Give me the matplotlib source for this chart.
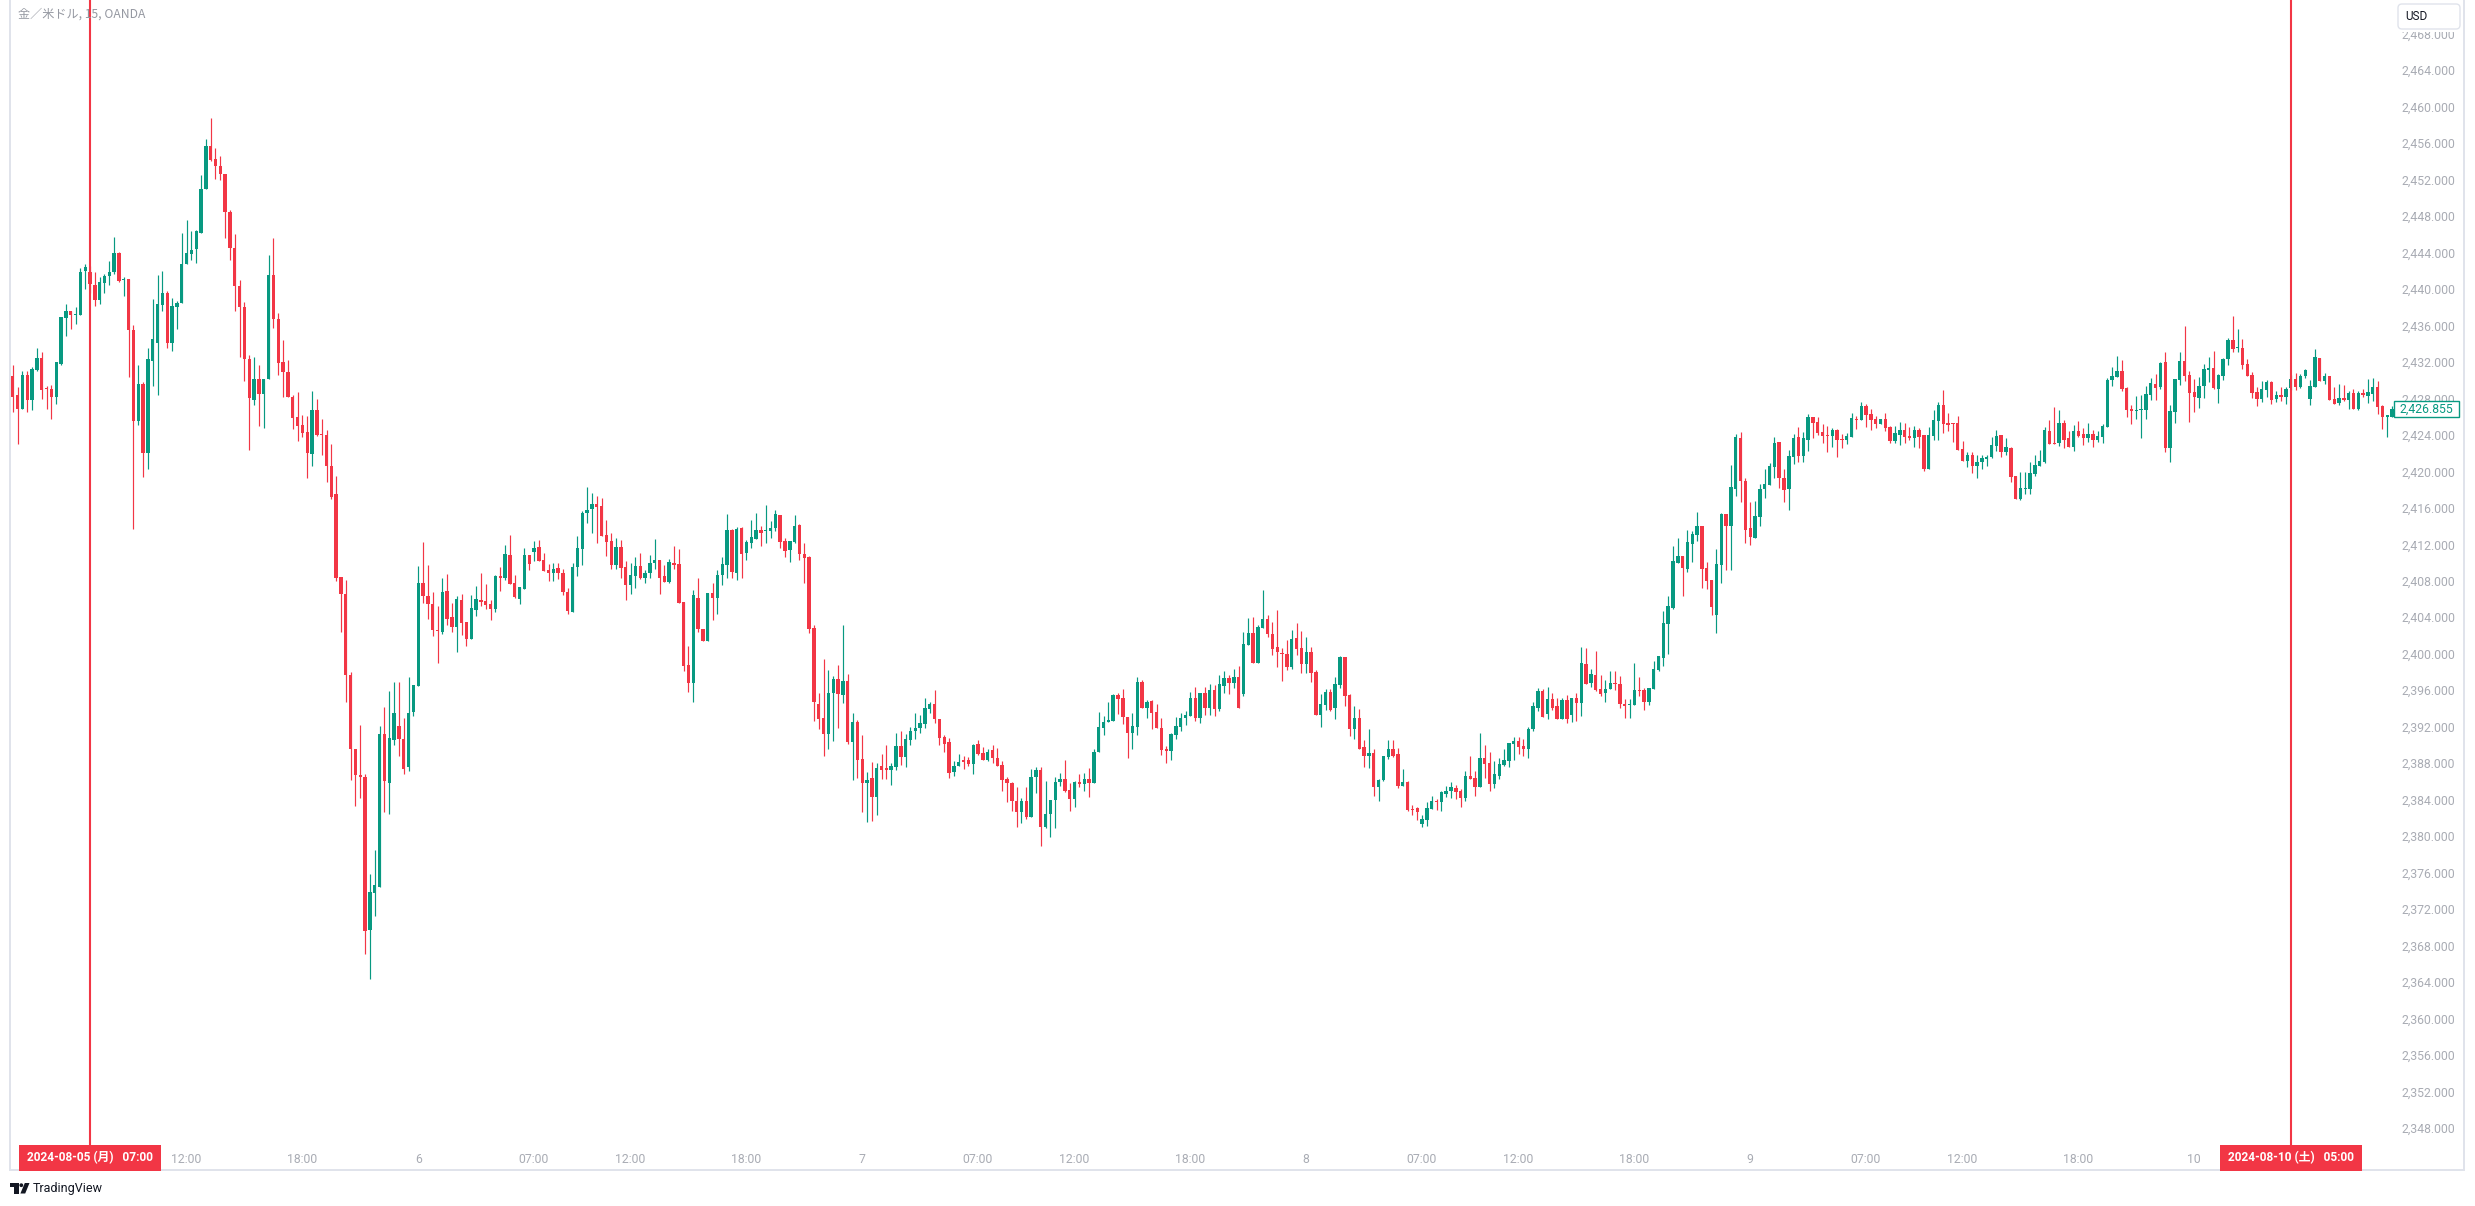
import matplotlib
matplotlib.use("Agg")
import matplotlib.pyplot as plt
from matplotlib.patches import Rectangle, FancyBboxPatch, Polygon, Circle
from matplotlib.lines import Line2D

W, H = 2475, 1206
DPI = 100

title = "金／米ドル, 15, OANDA"

opens = [
 2430.4, 2428.4, 2426.8, 2430.6, 2427.8, 2431.1, 2432.4, 2429.1, 2429.0, 2428.1,
 2431.8, 2436.8, 2437.6, 2437.1, 2437.1, 2442.0, 2441.8, 2440.4, 2438.8, 2440.6,
 2441.4, 2441.8, 2443.9, 2441.0, 2441.1, 2435.5, 2425.5, 2429.6, 2422.0, 2432.1,
 2434.1, 2438.2, 2439.5, 2434.1, 2438.0, 2438.4, 2442.7, 2443.8, 2444.4, 2446.1,
 2450.9, 2455.7, 2454.2, 2453.5, 2452.6, 2448.4, 2444.5, 2440.3, 2438.0, 2432.3,
 2427.8, 2430.1, 2428.5, 2430.1, 2441.5, 2436.7, 2432.0, 2430.9, 2428.1, 2426.0,
 2425.1, 2424.3, 2421.9, 2426.7, 2424.1, 2424.0, 2420.6, 2417.5, 2408.4, 2406.6,
 2397.7, 2389.6, 2386.7, 2386.5, 2369.7, 2373.8, 2374.4, 2391.2, 2385.8, 2390.5,
 2392.1, 2390.7, 2387.6, 2393.6, 2396.5, 2407.8, 2406.3, 2405.5, 2402.6, 2402.4,
 2406.9, 2404.0, 2402.9, 2405.9, 2403.5, 2401.6, 2404.8, 2405.9, 2405.8, 2405.4,
 2404.9, 2408.5, 2408.3, 2410.8, 2407.8, 2406.0, 2407.1, 2410.8, 2411.2, 2411.7,
 2410.3, 2409.2, 2408.9, 2409.4, 2408.9, 2406.8, 2404.6, 2409.5, 2411.5, 2415.4,
 2415.9, 2416.4, 2416.2, 2413.0, 2412.4, 2409.7, 2411.7, 2409.5, 2407.5, 2408.5,
 2409.6, 2408.3, 2408.9, 2409.9, 2410.3, 2408.5, 2407.9, 2410.0, 2409.8, 2405.7,
 2398.8, 2396.8, 2406.1, 2402.7, 2401.4, 2406.7, 2406.1, 2408.6, 2409.7, 2413.6,
 2408.9, 2413.8, 2411.0, 2412.1, 2412.6, 2413.6, 2413.4, 2413.4, 2413.8, 2415.2,
 2412.4, 2411.4, 2412.3, 2414.1, 2410.9, 2410.6, 2402.8, 2394.5, 2392.9, 2391.2,
 2395.7, 2397.2, 2395.5, 2397.0, 2390.3, 2392.5, 2388.5, 2385.8, 2386.4, 2384.3,
 2387.7, 2387.4, 2387.3, 2387.6, 2389.9, 2388.7, 2390.5, 2391.5, 2391.9, 2392.3,
 2393.9, 2394.5, 2392.8, 2390.9, 2390.3, 2387.0, 2387.7, 2388.3, 2388.3, 2387.9,
 2390.1, 2389.1, 2388.4, 2389.4, 2388.6, 2387.8, 2386.3, 2385.8, 2383.8, 2382.6,
 2383.8, 2382.1, 2386.5, 2387.2, 2381.0, 2382.4, 2384.0, 2385.9, 2386.3, 2385.1,
 2384.1, 2385.9, 2385.7, 2386.3, 2385.8, 2389.2, 2391.9, 2392.5, 2392.6, 2395.5,
 2395.1, 2393.1, 2391.3, 2392.0, 2396.9, 2394.0, 2394.8, 2393.6, 2391.9, 2389.5,
 2389.3, 2391.1, 2392.0, 2392.9, 2393.2, 2395.1, 2393.0, 2395.7, 2394.1, 2396.0,
 2393.9, 2396.5, 2397.3, 2396.8, 2397.4, 2395.6, 2401.0, 2402.3, 2399.0, 2402.8,
 2403.8, 2402.2, 2400.7, 2400.1, 2400.0, 2398.5, 2401.7, 2400.6, 2398.9, 2400.2,
 2398.0, 2393.3, 2394.4, 2395.8, 2394.1, 2396.6, 2399.6, 2395.5, 2391.8, 2393.0,
 2389.8, 2388.8, 2389.1, 2385.4, 2386.2, 2388.7, 2389.6, 2389.0, 2385.5, 2385.9,
 2383.0, 2383.1, 2381.3, 2381.8, 2383.0, 2383.8, 2383.7, 2384.6, 2384.9, 2385.3,
 2384.9, 2384.2, 2386.6, 2386.4, 2385.4, 2388.6, 2388.0, 2385.7, 2386.6, 2387.8,
 2388.2, 2390.1, 2390.4, 2389.9, 2389.5, 2391.7, 2394.1, 2395.9, 2393.4, 2395.0,
 2394.3, 2392.8, 2394.9, 2393.3, 2395.2, 2394.6, 2398.9, 2396.8, 2397.7, 2396.1,
 2395.7, 2396.1, 2396.8, 2396.7, 2394.5, 2394.4, 2394.4, 2396.0, 2396.0, 2394.7,
 2396.1, 2398.2, 2399.5, 2403.3, 2405.0, 2410.0, 2410.7, 2409.3, 2412.0, 2413.0,
 2414.0, 2409.4, 2408.1, 2404.3, 2409.7, 2415.3, 2414.0, 2418.1, 2423.7, 2418.9,
 2413.8, 2412.7, 2415.0, 2418.1, 2418.5, 2420.5, 2423.2, 2419.3, 2418.1, 2421.6,
 2423.8, 2421.7, 2423.4, 2425.9, 2425.4, 2424.3, 2424.0, 2423.9, 2424.5, 2423.5,
 2423.4, 2423.8, 2425.7, 2425.6, 2427.2, 2426.3, 2425.7, 2425.2, 2425.7, 2424.9,
 2423.3, 2424.0, 2424.5, 2423.9, 2423.6, 2424.5, 2424.0, 2420.2, 2423.9, 2425.5,
 2427.3, 2425.3, 2425.3, 2425.3, 2422.4, 2421.1, 2421.8, 2420.6, 2421.0, 2421.4,
 2421.6, 2422.8, 2424.0, 2422.1, 2422.6, 2419.5, 2417.0, 2418.1, 2418.1, 2419.7,
 2420.6, 2421.0, 2424.4, 2423.1, 2423.1, 2425.3, 2423.6, 2422.7, 2424.4, 2424.1,
 2423.7, 2424.1, 2423.4, 2423.8, 2424.9, 2430.0, 2430.3, 2431.0, 2429.1, 2426.8,
 2426.6, 2426.7, 2426.7, 2428.4, 2429.6, 2429.2, 2432.0, 2422.6, 2426.5, 2430.0,
 2432.1, 2430.6, 2428.7, 2428.0, 2429.4, 2431.1, 2431.3, 2429.0, 2430.5, 2432.3,
 2434.4, 2433.5, 2433.5, 2431.8, 2430.6, 2428.7, 2427.9, 2428.9, 2429.8, 2427.9,
 2428.4, 2428.2, 2429.1, 2430.1, 2429.2, 2430.4, 2427.9, 2429.2, 2432.4, 2429.9,
 2430.5, 2427.9, 2427.5, 2428.0, 2427.8, 2428.6, 2426.8, 2428.6, 2428.3, 2428.5,
 2429.2, 2427.2, 2426.0, 2426.0,
]

highs = [
 2431.6, 2429.2, 2431.0, 2431.0, 2431.4, 2433.5, 2433.1, 2429.4, 2429.5, 2432.0,
 2436.9, 2438.3, 2437.6, 2438.0, 2442.3, 2442.7, 2442.5, 2441.9, 2441.3, 2441.6,
 2443.1, 2445.7, 2444.0, 2441.3, 2441.1, 2436.0, 2431.6, 2429.8, 2433.5, 2438.9,
 2441.5, 2442.0, 2439.8, 2439.0, 2438.7, 2446.1, 2447.5, 2446.3, 2446.5, 2452.5,
 2456.4, 2458.7, 2455.4, 2454.6, 2452.6, 2448.6, 2446.0, 2441.0, 2438.6, 2432.8,
 2432.5, 2431.6, 2430.1, 2443.7, 2445.6, 2437.4, 2434.4, 2432.2, 2428.4, 2428.7,
 2426.2, 2426.1, 2428.8, 2427.9, 2425.7, 2424.5, 2423.0, 2419.5, 2408.4, 2408.1,
 2398.0, 2389.6, 2392.2, 2386.8, 2375.9, 2378.5, 2392.1, 2394.2, 2395.9, 2396.9,
 2396.9, 2392.9, 2397.5, 2396.6, 2409.6, 2412.2, 2409.7, 2406.8, 2405.2, 2408.3,
 2408.7, 2405.6, 2406.3, 2406.5, 2403.5, 2406.4, 2407.4, 2408.9, 2407.6, 2405.9,
 2408.6, 2409.5, 2411.9, 2413.0, 2408.6, 2407.3, 2411.6, 2410.8, 2412.4, 2412.5,
 2411.0, 2409.8, 2409.9, 2410.0, 2409.3, 2407.2, 2409.9, 2412.9, 2415.6, 2418.3,
 2417.6, 2417.3, 2417.1, 2414.7, 2413.2, 2412.7, 2412.5, 2410.2, 2409.9, 2410.6,
 2411.0, 2409.2, 2410.8, 2412.6, 2410.3, 2409.7, 2410.4, 2411.8, 2411.5, 2405.7,
 2400.8, 2407.0, 2408.3, 2402.7, 2406.7, 2407.8, 2409.2, 2410.6, 2415.3, 2413.7,
 2413.9, 2413.9, 2412.5, 2414.7, 2415.4, 2414.0, 2416.3, 2414.6, 2415.8, 2415.2,
 2412.7, 2412.4, 2415.2, 2414.2, 2412.1, 2410.7, 2403.1, 2395.7, 2399.4, 2398.2,
 2397.6, 2398.8, 2403.2, 2397.8, 2393.5, 2392.7, 2391.1, 2387.0, 2388.1, 2388.0,
 2389.0, 2390.0, 2388.0, 2391.3, 2391.5, 2391.2, 2392.0, 2393.5, 2393.3, 2395.1,
 2394.7, 2396.0, 2392.8, 2391.1, 2390.8, 2388.2, 2389.0, 2388.8, 2388.7, 2390.1,
 2390.5, 2389.8, 2389.5, 2390.0, 2389.7, 2388.2, 2386.5, 2385.9, 2385.4, 2384.2,
 2385.4, 2387.4, 2387.6, 2387.6, 2386.0, 2384.0, 2386.5, 2386.9, 2388.3, 2385.8,
 2386.0, 2386.8, 2386.9, 2387.5, 2389.6, 2393.6, 2393.2, 2394.7, 2395.6, 2395.7,
 2396.1, 2393.1, 2393.5, 2397.5, 2397.1, 2394.9, 2394.9, 2394.5, 2392.9, 2389.9,
 2391.3, 2393.1, 2393.5, 2393.7, 2395.8, 2396.3, 2395.7, 2396.3, 2396.7, 2396.6,
 2397.7, 2398.1, 2397.7, 2398.3, 2398.6, 2402.4, 2403.9, 2404.0, 2403.1, 2407.0,
 2404.3, 2403.5, 2404.8, 2400.6, 2401.5, 2402.6, 2403.4, 2402.5, 2401.8, 2400.7,
 2398.2, 2395.6, 2396.1, 2396.1, 2397.5, 2399.7, 2399.6, 2395.6, 2394.3, 2393.9,
 2390.5, 2391.7, 2389.5, 2386.3, 2388.8, 2390.5, 2390.5, 2389.7, 2387.4, 2386.1,
 2383.4, 2383.2, 2382.3, 2383.7, 2384.4, 2384.1, 2385.0, 2385.5, 2385.9, 2385.6,
 2385.2, 2387.1, 2388.8, 2387.1, 2391.3, 2390.0, 2389.2, 2388.2, 2388.6, 2389.6,
 2390.2, 2390.9, 2390.9, 2390.6, 2392.0, 2394.7, 2396.2, 2396.1, 2396.3, 2395.7,
 2395.1, 2395.1, 2395.5, 2395.2, 2395.7, 2400.7, 2400.6, 2398.3, 2400.3, 2397.7,
 2397.1, 2398.1, 2398.1, 2397.6, 2395.0, 2395.0, 2399.0, 2397.4, 2396.2, 2396.2,
 2399.2, 2399.7, 2404.7, 2406.3, 2411.8, 2412.7, 2410.7, 2413.6, 2413.4, 2415.5,
 2414.0, 2410.1, 2408.1, 2411.5, 2415.4, 2415.3, 2420.7, 2424.1, 2424.3, 2419.3,
 2416.6, 2416.7, 2418.6, 2420.3, 2420.9, 2423.8, 2423.2, 2420.3, 2422.3, 2424.1,
 2424.9, 2424.3, 2426.3, 2425.9, 2425.9, 2425.2, 2425.0, 2424.7, 2424.6, 2424.1,
 2424.2, 2426.4, 2426.1, 2427.6, 2427.4, 2426.8, 2426.1, 2425.7, 2426.4, 2425.0,
 2425.0, 2425.4, 2425.3, 2424.9, 2425.0, 2424.8, 2424.0, 2424.9, 2426.7, 2427.6,
 2428.9, 2426.4, 2425.3, 2426.1, 2423.3, 2422.1, 2422.1, 2421.8, 2421.8, 2421.8,
 2423.8, 2424.5, 2424.0, 2423.6, 2422.7, 2419.5, 2419.9, 2419.9, 2421.0, 2421.8,
 2422.3, 2424.9, 2425.6, 2427.0, 2426.7, 2425.6, 2424.4, 2425.1, 2425.5, 2424.7,
 2425.3, 2424.5, 2424.4, 2425.2, 2430.2, 2431.4, 2432.6, 2432.2, 2429.2, 2427.3,
 2428.3, 2428.4, 2429.4, 2430.2, 2430.7, 2432.0, 2433.1, 2427.3, 2430.1, 2433.1,
 2435.9, 2431.0, 2430.1, 2430.3, 2431.8, 2432.5, 2433.2, 2430.7, 2432.4, 2434.6,
 2437.0, 2435.6, 2434.5, 2432.3, 2430.9, 2429.2, 2429.9, 2430.0, 2429.9, 2428.8,
 2429.2, 2429.2, 2430.6, 2430.8, 2430.7, 2431.2, 2430.0, 2433.4, 2432.4, 2430.8,
 2430.5, 2429.2, 2429.6, 2429.5, 2428.8, 2429.0, 2428.8, 2429.0, 2430.1, 2430.2,
 2429.9, 2427.3, 2426.1, 2427.2,
]

lows = [
 2426.5, 2423.0, 2426.8, 2426.5, 2426.7, 2431.0, 2427.9, 2426.8, 2425.7, 2427.4,
 2431.6, 2434.8, 2435.6, 2436.1, 2437.1, 2440.0, 2439.5, 2438.1, 2438.3, 2439.6,
 2440.4, 2441.6, 2440.7, 2439.2, 2430.3, 2413.7, 2425.1, 2419.4, 2420.2, 2429.3,
 2428.4, 2437.6, 2433.5, 2433.2, 2435.6, 2438.4, 2442.7, 2443.2, 2442.8, 2446.1,
 2450.9, 2454.0, 2452.0, 2451.9, 2445.6, 2443.2, 2437.6, 2432.5, 2429.9, 2422.3,
 2427.3, 2425.0, 2424.7, 2430.1, 2435.7, 2430.6, 2428.1, 2428.1, 2424.6, 2423.3,
 2423.8, 2419.3, 2420.6, 2423.9, 2421.8, 2418.8, 2417.0, 2408.0, 2402.4, 2394.7,
 2386.2, 2383.3, 2384.2, 2367.1, 2364.3, 2371.2, 2374.4, 2382.7, 2382.4, 2390.0,
 2388.8, 2386.8, 2387.1, 2393.2, 2396.5, 2405.6, 2403.8, 2401.9, 2399.0, 2402.2,
 2403.1, 2402.4, 2400.2, 2402.0, 2400.8, 2401.6, 2404.1, 2405.2, 2404.9, 2403.7,
 2404.6, 2406.9, 2408.1, 2407.6, 2406.1, 2405.5, 2407.1, 2409.2, 2410.2, 2410.2,
 2409.1, 2408.0, 2408.0, 2408.2, 2406.4, 2404.4, 2404.6, 2408.5, 2409.7, 2414.3,
 2413.2, 2412.1, 2412.9, 2410.7, 2409.3, 2409.3, 2408.3, 2405.9, 2406.6, 2407.2,
 2408.2, 2407.7, 2408.3, 2409.3, 2406.5, 2407.9, 2407.8, 2409.3, 2405.6, 2398.1,
 2395.8, 2394.7, 2402.4, 2401.4, 2401.4, 2403.7, 2404.4, 2407.5, 2408.3, 2408.3,
 2408.1, 2408.3, 2410.3, 2411.6, 2412.6, 2411.8, 2412.1, 2412.7, 2413.4, 2411.6,
 2410.6, 2410.1, 2412.1, 2410.3, 2407.8, 2402.3, 2392.6, 2391.7, 2388.8, 2389.5,
 2390.4, 2391.9, 2394.6, 2390.1, 2386.2, 2386.4, 2382.6, 2381.5, 2381.7, 2382.3,
 2386.3, 2386.3, 2385.6, 2387.3, 2387.8, 2387.6, 2390.0, 2390.7, 2391.3, 2391.9,
 2393.5, 2392.4, 2390.0, 2389.2, 2386.4, 2386.6, 2387.7, 2387.4, 2387.7, 2386.8,
 2388.9, 2388.3, 2388.2, 2388.0, 2387.7, 2385.0, 2383.7, 2382.8, 2381.0, 2381.4,
 2381.9, 2382.1, 2384.7, 2378.9, 2380.9, 2379.9, 2380.9, 2385.5, 2384.8, 2382.8,
 2383.2, 2385.4, 2384.9, 2384.3, 2385.8, 2389.2, 2391.1, 2392.5, 2392.6, 2393.4,
 2392.3, 2388.6, 2389.6, 2391.1, 2394.0, 2393.0, 2391.8, 2391.9, 2388.9, 2388.0,
 2388.4, 2390.7, 2391.5, 2392.2, 2393.2, 2392.6, 2392.4, 2393.3, 2393.3, 2393.2,
 2393.7, 2395.7, 2395.6, 2396.2, 2394.1, 2395.4, 2401.0, 2399.0, 2399.0, 2402.8,
 2401.8, 2399.9, 2398.5, 2397.0, 2398.2, 2398.3, 2399.9, 2397.9, 2397.9, 2396.9,
 2393.3, 2392.0, 2393.8, 2393.7, 2392.8, 2396.2, 2394.3, 2391.0, 2390.7, 2389.5,
 2387.6, 2387.5, 2384.4, 2383.8, 2386.1, 2388.5, 2388.7, 2385.3, 2385.5, 2382.8,
 2382.3, 2381.8, 2381.0, 2381.1, 2383.0, 2382.9, 2382.8, 2384.3, 2384.2, 2384.1,
 2383.2, 2383.9, 2386.3, 2384.4, 2385.4, 2386.4, 2385.0, 2385.3, 2386.3, 2387.7,
 2387.6, 2388.3, 2389.0, 2388.8, 2388.6, 2391.5, 2393.7, 2393.1, 2392.8, 2393.8,
 2392.8, 2392.8, 2392.4, 2392.5, 2392.6, 2393.2, 2396.7, 2396.4, 2395.9, 2395.4,
 2394.7, 2396.1, 2396.0, 2394.1, 2392.9, 2392.9, 2394.4, 2395.4, 2393.8, 2394.4,
 2396.1, 2398.1, 2398.6, 2400.0, 2404.9, 2410.0, 2406.3, 2409.0, 2410.1, 2412.4,
 2407.2, 2407.1, 2404.2, 2402.3, 2407.7, 2409.2, 2409.2, 2417.3, 2416.6, 2412.1,
 2411.9, 2412.7, 2414.0, 2417.1, 2418.5, 2419.3, 2418.2, 2416.6, 2415.8, 2420.8,
 2421.0, 2421.0, 2422.2, 2423.6, 2424.0, 2423.1, 2422.1, 2422.7, 2421.6, 2422.6,
 2423.0, 2423.8, 2424.6, 2425.6, 2424.9, 2424.5, 2424.8, 2425.2, 2424.4, 2423.1,
 2423.1, 2422.9, 2423.1, 2423.4, 2422.7, 2422.6, 2420.0, 2420.2, 2423.4, 2423.4,
 2424.2, 2424.4, 2423.2, 2422.3, 2421.1, 2420.5, 2419.8, 2419.3, 2420.2, 2420.6,
 2421.5, 2422.2, 2421.6, 2421.8, 2418.8, 2417.0, 2416.9, 2417.5, 2417.5, 2419.5,
 2420.6, 2420.9, 2423.0, 2423.0, 2422.8, 2422.5, 2422.7, 2422.2, 2423.8, 2422.9,
 2423.2, 2422.7, 2423.2, 2423.1, 2424.9, 2429.4, 2430.3, 2428.8, 2426.0, 2425.2,
 2425.7, 2423.7, 2425.7, 2427.8, 2427.8, 2429.0, 2422.1, 2421.0, 2425.3, 2429.5,
 2429.9, 2425.4, 2426.5, 2426.9, 2428.0, 2429.8, 2429.0, 2427.5, 2430.0, 2431.7,
 2433.1, 2433.1, 2431.2, 2430.5, 2428.0, 2427.2, 2427.6, 2428.1, 2427.4, 2427.6,
 2427.7, 2427.4, 2428.9, 2428.9, 2429.1, 2430.2, 2427.3, 2429.2, 2429.9, 2429.6,
 2427.8, 2427.4, 2427.3, 2427.7, 2426.8, 2426.8, 2426.7, 2428.2, 2427.5, 2427.7,
 2426.3, 2424.6, 2423.8, 2426.0,
]

closes = [
 2428.2, 2426.8, 2430.6, 2427.8, 2431.2, 2432.4, 2428.9, 2429.0, 2428.1, 2432.0,
 2436.9, 2437.6, 2437.1, 2437.2, 2441.9, 2442.4, 2440.5, 2438.8, 2440.7, 2441.4,
 2441.9, 2443.9, 2440.9, 2441.1, 2435.5, 2425.5, 2429.6, 2422.0, 2432.3, 2434.5,
 2438.3, 2439.5, 2434.1, 2438.1, 2438.5, 2442.7, 2443.9, 2444.3, 2446.3, 2451.0,
 2455.7, 2454.1, 2453.5, 2452.6, 2448.4, 2444.5, 2440.3, 2438.0, 2432.3, 2428.0,
 2430.1, 2428.5, 2430.1, 2441.5, 2436.7, 2431.9, 2430.9, 2428.1, 2425.8, 2425.0,
 2424.2, 2422.0, 2426.7, 2424.0, 2424.0, 2420.6, 2417.2, 2408.3, 2406.6, 2397.7,
 2389.5, 2386.7, 2386.5, 2369.6, 2373.9, 2374.6, 2391.2, 2386.1, 2390.8, 2393.5,
 2390.7, 2387.4, 2393.5, 2396.6, 2407.8, 2406.3, 2405.5, 2402.6, 2402.5, 2406.8,
 2403.8, 2402.9, 2406.0, 2403.4, 2401.6, 2405.0, 2406.0, 2405.7, 2405.3, 2404.9,
 2408.5, 2408.3, 2410.9, 2407.6, 2406.2, 2407.3, 2410.8, 2409.8, 2411.6, 2410.2,
 2409.1, 2408.8, 2409.3, 2408.8, 2406.8, 2404.7, 2409.5, 2411.6, 2415.4, 2415.8,
 2416.4, 2416.1, 2412.9, 2412.3, 2409.7, 2411.7, 2409.4, 2407.5, 2408.6, 2409.6,
 2408.3, 2408.9, 2409.9, 2410.3, 2408.3, 2407.9, 2410.1, 2409.7, 2405.6, 2398.7,
 2396.8, 2406.4, 2402.7, 2401.4, 2406.7, 2406.1, 2408.6, 2409.8, 2413.6, 2409.0,
 2413.7, 2410.9, 2412.3, 2412.8, 2413.6, 2413.2, 2413.5, 2413.8, 2415.3, 2412.3,
 2411.3, 2412.4, 2414.0, 2410.9, 2410.5, 2402.7, 2394.7, 2392.8, 2391.2, 2395.7,
 2397.2, 2395.6, 2397.0, 2390.3, 2392.5, 2388.3, 2385.8, 2386.2, 2384.3, 2387.5,
 2387.3, 2387.3, 2387.7, 2389.9, 2388.7, 2390.6, 2391.5, 2391.9, 2392.4, 2394.0,
 2394.5, 2392.8, 2390.8, 2390.1, 2386.9, 2387.7, 2388.1, 2388.1, 2387.9, 2390.0,
 2389.0, 2388.4, 2389.2, 2388.6, 2387.7, 2386.2, 2385.8, 2383.8, 2382.6, 2383.8,
 2382.1, 2386.5, 2387.2, 2381.0, 2382.4, 2384.0, 2385.9, 2386.3, 2385.0, 2384.1,
 2385.9, 2385.7, 2386.3, 2385.8, 2389.2, 2392.0, 2392.5, 2392.7, 2395.5, 2395.0,
 2393.1, 2391.3, 2392.1, 2396.9, 2394.0, 2394.7, 2393.5, 2391.9, 2389.4, 2389.3,
 2391.2, 2392.1, 2393.0, 2393.3, 2395.1, 2393.0, 2395.7, 2394.1, 2396.0, 2393.9,
 2396.7, 2397.3, 2396.8, 2397.4, 2394.1, 2401.1, 2402.3, 2399.0, 2402.9, 2403.8,
 2402.2, 2400.5, 2400.2, 2400.0, 2398.5, 2401.6, 2400.5, 2398.9, 2400.2, 2397.9,
 2393.3, 2394.5, 2395.8, 2393.8, 2396.7, 2399.6, 2395.4, 2391.8, 2392.9, 2389.6,
 2388.8, 2389.1, 2385.4, 2386.2, 2388.8, 2389.5, 2388.8, 2385.5, 2385.9, 2382.9,
 2382.9, 2382.7, 2381.9, 2383.1, 2383.8, 2383.7, 2384.8, 2385.0, 2385.4, 2384.8,
 2384.2, 2386.6, 2386.3, 2385.4, 2388.6, 2387.9, 2385.7, 2386.8, 2387.9, 2388.3,
 2390.2, 2390.4, 2389.8, 2389.5, 2391.8, 2394.3, 2395.9, 2393.1, 2395.0, 2394.1,
 2392.8, 2394.9, 2392.8, 2395.2, 2394.6, 2399.0, 2396.7, 2397.8, 2396.0, 2395.6,
 2396.1, 2396.8, 2396.7, 2394.5, 2394.3, 2394.5, 2396.0, 2395.9, 2394.7, 2396.2,
 2398.3, 2399.7, 2403.4, 2405.2, 2410.2, 2410.7, 2409.4, 2412.2, 2413.1, 2414.0,
 2409.3, 2408.0, 2405.1, 2409.8, 2415.3, 2414.0, 2418.3, 2423.8, 2418.9, 2413.6,
 2412.8, 2415.1, 2418.1, 2418.6, 2420.6, 2423.1, 2419.3, 2418.0, 2421.7, 2423.7,
 2421.7, 2423.6, 2425.9, 2425.3, 2424.2, 2423.9, 2423.9, 2424.5, 2423.4, 2423.4,
 2423.9, 2425.8, 2425.6, 2427.2, 2426.2, 2425.6, 2425.2, 2425.7, 2424.7, 2423.3,
 2424.2, 2424.5, 2423.8, 2423.6, 2424.5, 2423.8, 2420.2, 2424.0, 2425.6, 2427.3,
 2425.2, 2425.1, 2425.2, 2422.3, 2421.1, 2421.8, 2420.6, 2421.0, 2421.5, 2421.6,
 2422.9, 2423.9, 2422.1, 2422.7, 2419.4, 2417.0, 2418.2, 2418.2, 2419.8, 2420.7,
 2421.1, 2424.5, 2423.0, 2423.0, 2425.3, 2423.4, 2422.7, 2424.4, 2423.9, 2423.7,
 2424.1, 2423.4, 2423.9, 2425.0, 2430.0, 2430.5, 2431.0, 2429.0, 2426.7, 2426.6,
 2426.7, 2426.8, 2428.5, 2429.7, 2429.1, 2431.9, 2422.6, 2426.6, 2430.1, 2432.1,
 2430.5, 2428.6, 2428.1, 2429.4, 2431.2, 2431.3, 2429.1, 2430.6, 2432.3, 2434.4,
 2433.4, 2433.6, 2431.7, 2430.5, 2428.6, 2427.9, 2429.0, 2429.8, 2427.8, 2428.4,
 2428.2, 2429.0, 2430.1, 2429.2, 2430.5, 2431.1, 2429.4, 2432.5, 2429.9, 2430.5,
 2427.8, 2427.4, 2428.0, 2427.8, 2428.6, 2426.8, 2428.6, 2428.4, 2428.7, 2429.2,
 2427.1, 2426.0, 2426.1, 2426.855,
]

# time axis (candle index of each label)
xtick_index = [36, 60, 84, 108, 128, 152, 176, 200, 220, 244, 268, 292,
               312, 336, 360, 384, 404, 428, 452]
xtick_labels = ["12:00", "18:00", "6", "07:00", "12:00", "18:00", "7", "07:00",
                "12:00", "18:00", "8", "07:00", "12:00", "18:00", "9", "07:00",
                "12:00", "18:00", "10"]
marker_index = [16, 472]
marker_labels = ["2024-08-05 (月)   07:00", "2024-08-10 (土)   05:00"]
ytick_values = list(range(2348, 2469, 4))
last_price = closes[-1]

assert len(opens) == len(highs) == len(lows) == len(closes)

UP = "#089981"
DOWN = "#f23645"
AXIS_TXT = "#a9acb4"
BORDER = "#e0e3eb"
FONT_NUM = ["Roboto", "Noto Sans CJK JP", "DejaVu Sans"]
FONT_CJK = ["Noto Sans CJK JP", "DejaVu Sans"]

fig = plt.figure(figsize=(W / DPI, H / DPI), dpi=DPI, facecolor="white")

# main chart axes: pixels x 10..2395, y 0..1145
ax = fig.add_axes([10 / W, 1 - 1145 / H, 2385 / W, 1145 / H])
ax.set_facecolor("white")
n = len(closes)
xs = list(range(n))
ax.set_xlim(-0.58, 493.6)
ax.set_ylim(2346.14, 2471.67)
for s in ax.spines.values():
    s.set_visible(False)

colors = [UP if c >= o else DOWN for o, c in zip(opens, closes)]
bottoms = [min(o, c) for o, c in zip(opens, closes)]
heights = [max(abs(c - o), 0.12) for o, c in zip(opens, closes)]
ax.vlines(xs, lows, highs, colors=colors, linewidth=0.85, zorder=2)
ax.bar(xs, heights, bottom=bottoms, width=0.7, color=colors, linewidth=0, zorder=3)

for mi in marker_index:
    ax.axvline(mi, color=DOWN, linewidth=1.5, zorder=5)

ax.yaxis.tick_right()
ax.set_yticks(ytick_values)
ax.set_yticklabels([f"{v:,.3f}" for v in ytick_values])
ax.tick_params(axis="y", length=0, pad=5, labelsize=8.8, labelcolor=AXIS_TXT)
ax.set_xticks(xtick_index)
ax.set_xticklabels(xtick_labels)
ax.tick_params(axis="x", length=0, pad=5.5, labelsize=8.8, labelcolor=AXIS_TXT)
for lab in ax.get_xticklabels() + ax.get_yticklabels():
    lab.set_family(FONT_NUM)

# overlay in pixel coordinates (y downward)
ov = fig.add_axes([0, 0, 1, 1])
ov.set_xlim(0, W)
ov.set_ylim(H, 0)
ov.axis("off")
ov.patch.set_alpha(0)


def to_px(xd, yd):
    dx, dy = ax.transData.transform((xd, yd))
    return dx, H - dy


# frame
ov.add_line(Line2D([10, 10], [0, 1170], color=BORDER, lw=1.4))
ov.add_line(Line2D([10, 2464], [1170, 1170], color=BORDER, lw=1.4))
ov.add_line(Line2D([2464, 2464], [0, 1170], color=BORDER, lw=1.4))

# title
ov.text(18, 14, title, ha="left", va="center", fontsize=8.7, color="#9598a1",
        family=FONT_CJK)

# USD box
ov.add_patch(Rectangle((2395, 0), 68, 32, facecolor="white", edgecolor="none", zorder=4))
ov.add_patch(FancyBboxPatch((2398, 4), 62, 25, boxstyle="round,pad=0,rounding_size=4",
                            facecolor="white", edgecolor=BORDER, lw=1, zorder=5))
ov.text(2405, 16.5, "USD", ha="left", va="center", fontsize=8.5, color="#131722",
        family=FONT_NUM, zorder=6)

# last price tag
_, yc = to_px(0, last_price)
ov.add_patch(Rectangle((2394, yc - 8), 65, 16, facecolor="white", edgecolor=UP,
                       lw=1, zorder=5))
ov.text(2426.5, yc, f"{last_price:,.3f}", ha="center", va="center", fontsize=8.8,
        color=UP, family=FONT_NUM, zorder=6)

# red date labels on the time axis
for mi, lab in zip(marker_index, marker_labels):
    cx, _ = to_px(mi, 2400)
    ov.add_patch(Rectangle((cx - 71, 1145), 142, 26, facecolor=DOWN, edgecolor="none",
                           zorder=5))
    ov.text(cx, 1158, lab, ha="center", va="center", fontsize=8.6, color="white",
            fontweight="bold", family=FONT_NUM, zorder=6)

# TradingView logo
logo = "#131722"
ov.add_patch(Rectangle((10, 1183), 8.5, 3.6, facecolor=logo, edgecolor="none"))
ov.add_patch(Rectangle((14.2, 1183), 4.3, 10.5, facecolor=logo, edgecolor="none"))
ov.add_patch(Circle((21.3, 1185.2), 1.9, facecolor=logo, edgecolor="none"))
ov.add_patch(Polygon([(24.8, 1183), (29.5, 1183), (25.2, 1193.5), (20.4, 1193.5)],
                     closed=True, facecolor=logo, edgecolor="none"))
ov.text(33, 1188.5, "TradingView", ha="left", va="center", fontsize=9, color=logo,
        family=FONT_NUM)

fig.savefig("out.png", dpi=DPI, facecolor="white")
